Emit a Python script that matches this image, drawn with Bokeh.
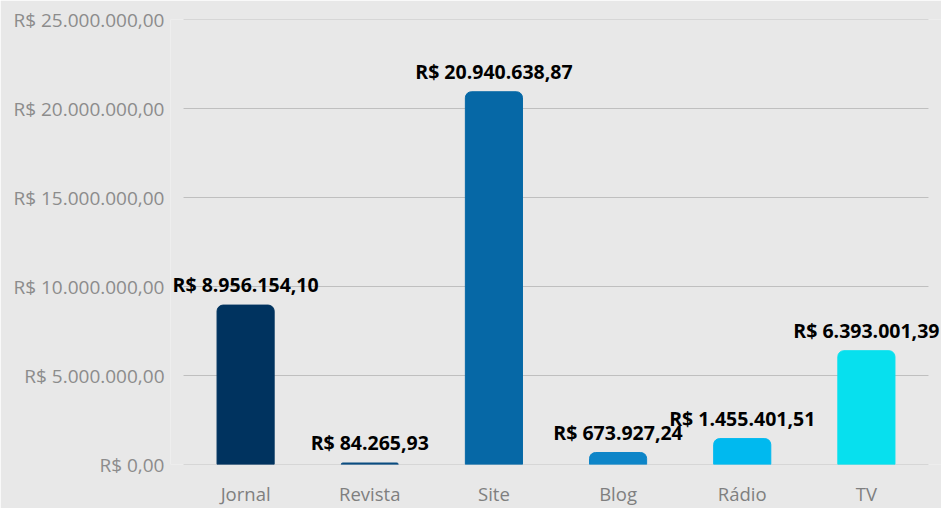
from bokeh.plotting import figure
from bokeh.models import ColumnDataSource, Range1d, FixedTicker, FactorRange, LabelSet
from bokeh.core.properties import value
from bokeh.embed import file_html
from bokeh.resources import INLINE

categories = ["Jornal", "Revista", "Site", "Blog", "Rádio", "TV"]
values = [8956154.10, 84265.93, 20940638.87, 673927.24, 1455401.51, 6393001.39]
colors = ["#00335F", "#0A4C80", "#0668A6", "#0D85C8", "#00B9EF", "#07E0EE"]
y_ticks = [0, 5000000, 10000000, 15000000, 20000000, 25000000]


def brl(v):
    s = f"{v:,.2f}".replace(",", "X").replace(".", ",").replace("X", ".")
    return "R$ " + s


labels = [brl(v) for v in values]
src = ColumnDataSource(dict(cat=categories, val=values, color=colors, label=labels))
grid_src = ColumnDataSource(dict(y=y_ticks, x0=[0] * len(y_ticks),
                                 x1=[len(categories)] * len(y_ticks)))

BG = "#E8E8E8"
FONT = "Open Sans"

x_range = FactorRange(factors=categories, range_padding=0.105,
                      range_padding_units="absolute")
p = figure(x_range=x_range, y_range=Range1d(0, 25000000),
           width=941, height=508, output_backend="svg", toolbar_location=None,
           min_border_left=170, min_border_right=0, min_border_top=19, min_border_bottom=44)
p.background_fill_color = BG
p.border_fill_color = BG
p.outline_line_color = None

# horizontal gridlines spanning only the category area
p.segment(x0="x0", x1="x1", y0="y", y1="y", source=grid_src,
          line_color="#BFBFBF", line_width=1, level="underlay")

p.vbar(x="cat", top="val", width=0.46, color="color", source=src,
       border_radius=(6, 6, 0, 0))
p.add_layout(LabelSet(x="cat", y="val", text="label", source=src, text_align="center",
                      text_baseline="bottom", y_offset=7, text_font=value(FONT),
                      text_font_style="bold", text_font_size="19.5px",
                      text_color="#000000"))

p.yaxis.ticker = FixedTicker(ticks=y_ticks)
p.yaxis.major_label_overrides = {t: brl(t) for t in y_ticks}
p.yaxis.axis_line_color = None
p.yaxis.major_tick_line_color = None
p.yaxis.minor_tick_line_color = None
p.yaxis.major_label_standoff = 0
p.yaxis.major_label_text_font = FONT
p.yaxis.major_label_text_font_size = "19px"
p.yaxis.major_label_text_color = "#8C8C8C"

p.xaxis.axis_line_color = None
p.xaxis.major_tick_line_color = None
p.xaxis.minor_tick_line_color = None
p.xaxis.major_label_standoff = 10
p.xaxis.major_label_text_font = FONT
p.xaxis.major_label_text_font_size = "18.5px"
p.xaxis.major_label_text_color = "#7F7F7F"

p.xgrid.grid_line_color = None
p.ygrid.grid_line_color = None

open("out.html", "w").write(file_html(p, INLINE))
